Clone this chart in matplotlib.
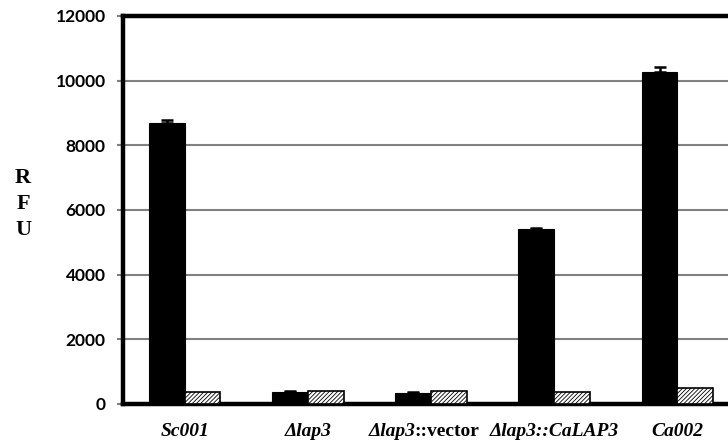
import matplotlib
matplotlib.use("Agg")
import matplotlib.pyplot as plt
import numpy as np

categories = ["Sc001", "Δlap3", "Δlap3::vector", "Δlap3::CaLAP3", "Ca002"]
label_texts = ["Sc001", "Δlap3", "", "Δlap3::CaLAP3", "Ca002"]
vector_parts = ["Δlap3", "::vector"]
black_vals = [8680, 380, 350, 5400, 10270]
black_err = [110, 25, 25, 30, 150]
hatch_vals = [380, 390, 390, 380, 490]
yticks = [0, 2000, 4000, 6000, 8000, 10000, 12000]

plt.rcParams['hatch.linewidth'] = 0.6
plt.rcParams['hatch.color'] = '#333333'

fig = plt.figure(figsize=(7.28, 4.42), dpi=100)
ax = fig.add_axes([123/728, 1 - 404/442, 616/728, 388/442])

x = np.arange(len(categories))
w = 0.29
ax.bar(x - w/2, black_vals, width=w, color="black", edgecolor="black", linewidth=0.8, zorder=3)
ax.errorbar(x - w/2, black_vals, yerr=[np.zeros(len(black_err)), black_err], fmt="none",
            ecolor="black", elinewidth=1.8, capsize=4, capthick=1.8, zorder=4)
ax.bar(x + w/2, hatch_vals, width=w, color="white", edgecolor="black", linewidth=1.2,
       hatch="////////", zorder=3)

ax.set_xlim(-0.5, 4.5)
ax.set_ylim(0, 12000)
ax.set_yticks(yticks)
ax.set_yticklabels([str(v) for v in yticks], fontfamily="Lato", fontweight="bold", fontsize=12.5)
ax.yaxis.grid(True, color="#808080", linewidth=1.5, zorder=0)
ax.set_axisbelow(True)
ax.tick_params(axis="y", direction="out", length=4.5, width=1.5, color="#808080", pad=8)
ax.tick_params(axis="x", length=0, pad=14)
ax.set_xticks(x)
ax.set_xticklabels(label_texts, fontfamily="Liberation Serif", fontweight="bold",
                   fontstyle="italic", fontsize=14)

# mixed-style label for the vector strain
tr = ax.get_xaxis_transform()
ax.annotate(vector_parts[0], xy=(x[2], 0), xycoords=tr, xytext=(-15, -28),
            textcoords="offset pixels", ha="right", va="center", fontfamily="Liberation Serif",
            fontweight="bold", fontstyle="italic", fontsize=14, annotation_clip=False)
ax.annotate(vector_parts[1], xy=(x[2], 0), xycoords=tr, xytext=(-17, -28),
            textcoords="offset pixels", ha="left", va="center", fontfamily="Liberation Serif",
            fontweight="bold", fontstyle="normal", fontsize=14, annotation_clip=False)

for s in ["left", "top", "bottom"]:
    ax.spines[s].set_linewidth(3.2)
    ax.spines[s].set_color("black")
ax.spines["right"].set_visible(False)

fig.text(23/728, 1 - 204/442, "R\nF\nU", ha="center", va="center", fontfamily="Liberation Serif",
         fontweight="bold", fontsize=16, linespacing=1.4)

fig.savefig("out.png", dpi=100)
